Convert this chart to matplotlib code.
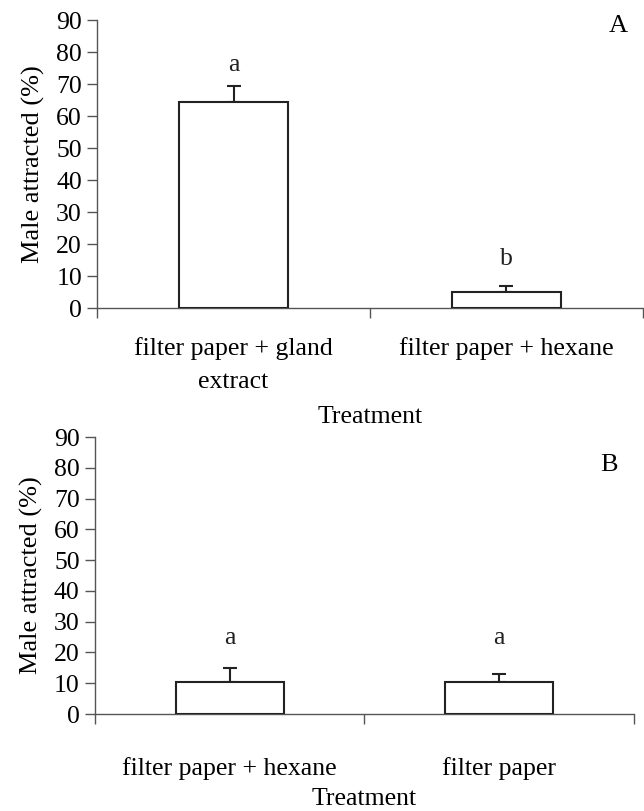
import matplotlib
matplotlib.use("Agg")
import matplotlib.pyplot as plt
import numpy as np

plt.rcParams['font.family'] = ['Liberation Serif', 'DejaVu Serif']

cats_a = ["filter paper + gland\nextract", "filter paper + hexane"]
vals_a = [64.5, 5.0]
err_a = [5.0, 2.0]
letters_a = ["a", "b"]
letter_y_a = [76, 15.5]

cats_b = ["filter paper + hexane", "filter paper"]
vals_b = [10.5, 10.5]
err_b = [4.5, 2.5]
letters_b = ["a", "a"]
letter_y_b = [24.7, 24.7]

yticks = list(range(0, 100, 10))

fig = plt.figure(figsize=(6.44, 8.11), dpi=100)
axA = fig.add_axes([0.151, 0.620, 0.847, 0.355])
axB = fig.add_axes([0.1475, 0.1196, 0.8365, 0.3415])

edge = '#222222'
spine_c = '#555555'
FS = 18.5

def draw(ax, cats, vals, errs, letters, ly, panel, labelpad_x, panel_y):
    x = np.arange(len(cats)) + 0.5
    ax.bar(x, vals, width=0.4, color='white', edgecolor=edge, linewidth=1.5, zorder=3)
    ax.errorbar(x, vals, yerr=[np.zeros(len(errs)), errs], fmt='none', ecolor=edge,
                elinewidth=1.5, capsize=5, capthick=1.5, zorder=2)
    for xi, l, yy in zip(x, letters, ly):
        ax.text(xi, yy, l, ha='center', va='center', fontsize=FS, color='#222222')
    ax.set_xlim(0, 2)
    ax.set_ylim(0, 90)
    ax.set_yticks(yticks)
    ax.set_xticks([0, 1, 2])
    ax.set_xticklabels([])
    ax.set_xticks(x, minor=True)
    ax.set_xticklabels(cats, minor=True, linespacing=1.65)
    ax.tick_params(axis='x', which='minor', length=0, pad=labelpad_x, labelsize=FS)
    ax.tick_params(axis='x', which='major', length=7, direction='out', color=spine_c, width=1)
    ax.tick_params(axis='y', length=7, direction='out', color=spine_c, width=1, labelsize=FS, pad=4)
    for s in ['top', 'right']:
        ax.spines[s].set_visible(False)
    for s in ['left', 'bottom']:
        ax.spines[s].set_color(spine_c)
        ax.spines[s].set_linewidth(1)
    ax.set_ylabel("Male attracted (%)", fontsize=19, labelpad=8)
    ax.set_xlabel("Treatment", fontsize=FS)
    ax.text(0.955, panel_y, panel, transform=ax.transAxes,
            fontsize=19, ha='center', va='center')

draw(axA, cats_a, vals_a, err_a, letters_a, letter_y_a, 'A', 21, 0.98)
draw(axB, cats_b, vals_b, err_b, letters_b, letter_y_b, 'B', 31, 0.9)
axA.xaxis.labelpad = 9
axB.xaxis.labelpad = 6

fig.savefig("out.png", dpi=100)
